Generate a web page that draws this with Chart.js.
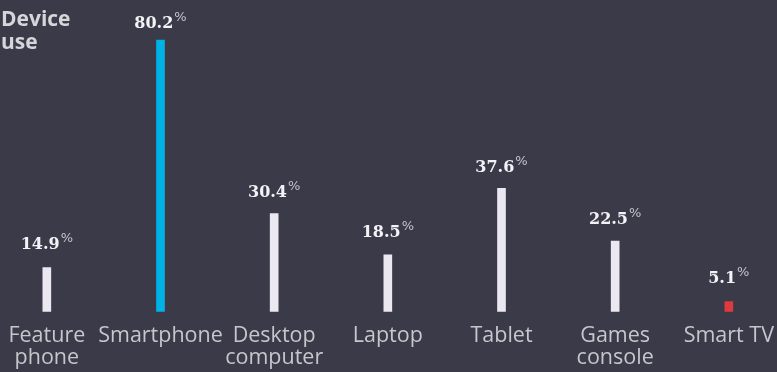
<!DOCTYPE html>
<html>
<head>
<meta charset="utf-8">
<title>Device use</title>
<script src="https://cdn.jsdelivr.net/npm/chart.js@4.4.1/dist/chart.umd.min.js"></script>
<style>
  html, body { margin: 0; padding: 0; background: #3a3a48; overflow: hidden; }
  #wrap { position: absolute; left: -10px; top: 0; width: 797px; height: 382px; }
</style>
</head>
<body>
<div id="wrap"><canvas id="chart"></canvas></div>
<script>
// Share of respondents using each device (%)
const categories = [['Feature', 'phone'], 'Smartphone', ['Desktop', 'computer'], 'Laptop', 'Tablet', ['Games', 'console'], 'Smart TV'];
const shares = [14.9, 80.2, 30.4, 18.5, 37.6, 22.5, 5.1];
const barColors = ['#ece8f1', '#00b3e4', '#ece8f1', '#ece8f1', '#ece8f1', '#ece8f1', '#e0393f'];
const titleLines = ['Device', 'use'];

const BG = '#3a3a48';

// Background, title and value labels
const decorations = {
  id: 'decorations',
  beforeDraw(chart) {
    const { ctx, width, height } = chart;
    ctx.save();
    ctx.fillStyle = BG;
    ctx.fillRect(0, 0, width, height);
    ctx.restore();
  },
  afterDatasetsDraw(chart) {
    const { ctx } = chart;
    ctx.save();
    // title
    ctx.fillStyle = '#d6d6da';
    ctx.font = 'bold 21px "Open Sans"';
    ctx.textAlign = 'left';
    ctx.textBaseline = 'alphabetic';
    titleLines.forEach((t, i) => ctx.fillText(t, 11, 26 + i * 23));

    // value labels with a raised percent sign
    const meta = chart.getDatasetMeta(0);
    meta.data.forEach((bar, i) => {
      const v = shares[i];
      const numText = v.toFixed(1);
      ctx.font = 'bold 16px "DejaVu Serif"';
      const nw = ctx.measureText(numText).width;
      ctx.font = '13px "DejaVu Sans"';
      const pw = ctx.measureText('%').width;
      const left = bar.x - (nw + pw + 1) / 2;
      // shorter bars carry their label a little further up
      const baseline = bar.y - (19.5 - 0.093 * v);
      ctx.fillStyle = '#f4f2f6';
      ctx.font = 'bold 16px "DejaVu Serif"';
      ctx.fillText(numText, left, baseline);
      ctx.fillStyle = '#c4c4cc';
      ctx.font = '13px "DejaVu Sans"';
      ctx.fillText('%', left + nw + 1, baseline - 7);
    });
    ctx.restore();
  }
};

new Chart(document.getElementById('chart'), {
  type: 'bar',
  data: {
    labels: categories,
    datasets: [{
      data: shares,
      backgroundColor: barColors,
      borderWidth: 0,
      barThickness: 8
    }]
  },
  options: {
    responsive: true,
    maintainAspectRatio: false,
    animation: false,
    layout: { padding: { top: 0, left: 0, right: 0, bottom: 0 } },
    plugins: {
      legend: { display: false },
      tooltip: { enabled: false }
    },
    scales: {
      x: {
        grid: { display: false, drawTicks: false },
        border: { display: false },
        ticks: {
          color: '#c6c6cc',
          font: { family: '"Open Sans"', size: 21.5, lineHeight: 1.03 },
          padding: 13,
          autoSkip: false,
          maxRotation: 0
        }
      },
      y: {
        display: false,
        min: 2.2,
        max: 91.7
      }
    }
  },
  plugins: [decorations]
});
</script>
</body>
</html>
